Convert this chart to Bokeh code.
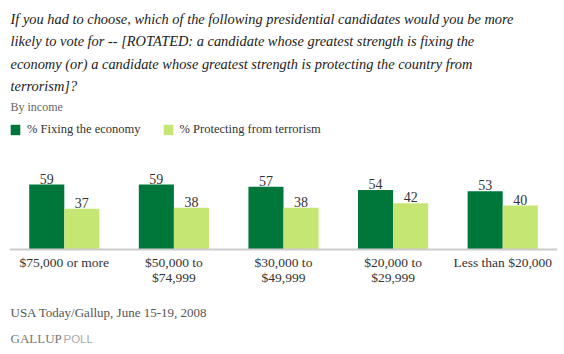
from bokeh.plotting import figure
from bokeh.models import (ColumnDataSource, FactorRange, Range1d, Label, Span,
                          Legend, LegendItem)
from bokeh.transform import dodge
from bokeh.embed import file_html
from bokeh.resources import INLINE
from bokeh.core.properties import value

# ---- data ----
categories = ["$75,000 or more", "$50,000 to $74,999", "$30,000 to $49,999",
              "$20,000 to $29,999", "Less than $20,000"]
cat_labels = ["$75,000 or more", "$50,000 to\n$74,999", "$30,000 to\n$49,999",
              "$20,000 to\n$29,999", "Less than $20,000"]
economy = [59, 59, 57, 54, 53]
terrorism = [37, 38, 38, 42, 40]
series_names = ["% Fixing the economy", "% Protecting from terrorism"]
title_lines = [
    "If you had to choose, which of the following presidential candidates would you be more",
    "likely to vote for -- [ROTATED: a candidate whose greatest strength is fixing the",
    "economy (or) a candidate whose greatest strength is protecting the country from",
    "terrorism]?",
]
subtitle = "By income"
source_note = "USA Today/Gallup, June 15-19, 2008"

DARK = "#00773a"
LIGHT = "#c6e673"
SERIF = "'Liberation Serif', serif"

W, H = 564, 354
BASE_Y = 249          # pixel row of the baseline (from top)
PX_PER_UNIT = 1.1

src = ColumnDataSource(dict(
    cat=categories, label=cat_labels, econ=economy, terr=terrorism,
    econ_t=[str(v) for v in economy], terr_t=[str(v) for v in terrorism],
))

p = figure(width=W, height=H, output_backend="svg", toolbar_location=None,
           x_range=FactorRange(*categories, range_padding=0),
           y_range=Range1d(-(H - BASE_Y) / PX_PER_UNIT, BASE_Y / PX_PER_UNIT),
           min_border_left=9, min_border_right=7, min_border_top=0,
           min_border_bottom=0, x_axis_location=None, y_axis_location=None)
p.outline_line_color = None
p.xgrid.visible = False
p.ygrid.visible = False
p.background_fill_color = "white"

r1 = p.vbar(x=dodge("cat", -0.16, range=p.x_range), top="econ", bottom=0,
            width=0.32, source=src, fill_color=DARK, line_color=None)
r2 = p.vbar(x=dodge("cat", 0.16, range=p.x_range), top="terr", bottom=0,
            width=0.32, source=src, fill_color=LIGHT, line_color=None)

p.add_layout(Span(location=0, dimension="width", line_color="#cccccc",
                  line_width=2))

# value labels
for col, off in (("econ", -0.16), ("terr", 0.16)):
    p.text(x=dodge("cat", off, range=p.x_range), y=col, text=col + "_t",
           source=src, text_align="center", text_baseline="bottom",
           y_offset=-1, text_font=value(SERIF), text_font_size="14px",
           text_color="#333333")

# category labels
p.text(x="cat", y=0, text="label", source=src, text_align="center",
       text_baseline="top", y_offset=5, text_font=value(SERIF),
       text_font_size="13.5px", text_color="#333333", text_line_height=1.05)

def screen_label(txt, x, y_from_top, size, color, style="normal", font=SERIF):
    p.add_layout(Label(x=x, y=H - y_from_top, x_units="screen", y_units="screen",
                       text=txt, text_font=font, text_font_size=size,
                       text_color=color, text_font_style=style,
                       text_baseline="alphabetic"))

for i, line in enumerate(title_lines):
    screen_label(line, 1, 18 + i * 22.5, "14.4px", "#222222", style="italic")
screen_label(subtitle, 1, 106, "12px", "#666666")
screen_label(source_note, 1, 312, "13px", "#555555")
screen_label("GALLUP", 1, 338, "13px", "#777777")
screen_label("POLL", 54, 338, "11.5px", "#aaaaaa", font="'Liberation Sans', sans-serif")

legend = Legend(items=[LegendItem(label=series_names[0], renderers=[r1]),
                       LegendItem(label=series_names[1], renderers=[r2])],
                orientation="horizontal", location=(0, H - 137),
                glyph_width=12, glyph_height=13, label_standoff=6,
                spacing=21, padding=0, margin=0, border_line_color=None,
                background_fill_alpha=0, label_text_font=SERIF,
                label_text_font_size="12.5px", label_text_color="#333333",
                label_height=13)
p.add_layout(legend, "center")

open("out.html", "w").write(file_html(p, INLINE))
